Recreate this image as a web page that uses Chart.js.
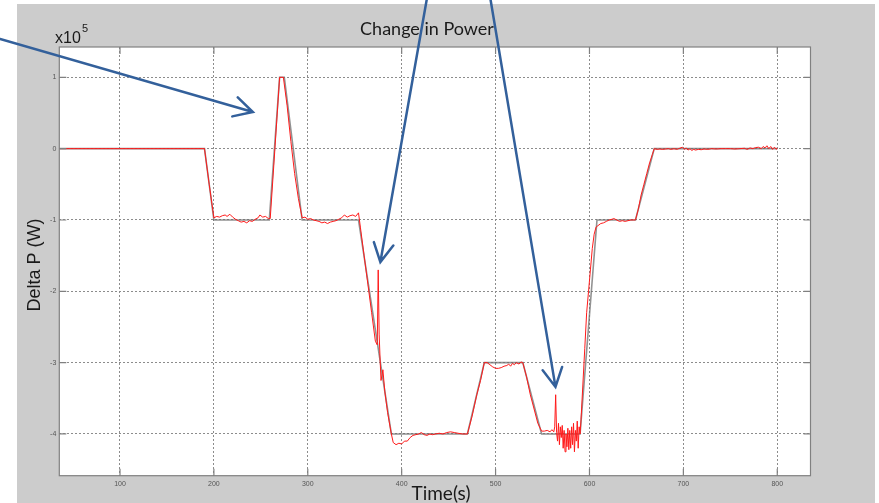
<!DOCTYPE html>
<html>
<head>
<meta charset="utf-8">
<script src="https://cdn.jsdelivr.net/npm/chart.js@4"></script>
<style>
  html, body { margin: 0; padding: 0; background: #fff; }
  #wrap { width: 879px; height: 503px; }
</style>
</head>
<body>
<div id="wrap"><canvas id="powerChart" width="879" height="503"></canvas></div>
<script>
// values in units of 1e5 W
const refTime  = [35, 190, 200, 259, 270, 275, 294, 354, 389, 470, 488, 529, 549, 590, 608, 649, 669, 800];
const refPower = [0, 0, -1, -1, 1, 1, -1, -1, -4, -4, -3, -3, -4, -4, -1, -1, 0, 0];

const measTime = [
  35, 190, 195, 200, 203, 206, 209, 212, 214, 217, 220, 223, 226, 229, 232, 235, 238, 241, 244, 247, 249, 252, 255, 258, 260,
  265, 270, 274, 278, 282, 286, 290, 294,
  297, 300, 303, 306, 309, 312, 315, 318, 321, 324, 327, 330, 333, 336, 339, 342, 345, 348, 351, 354,
  356, 360, 364, 368, 372, 374, 375, 376, 377, 378, 380, 382, 385, 389,
  391, 394, 397, 400, 403, 406, 409, 412, 415, 418, 421, 424, 427, 430, 433, 436, 440, 444, 448, 452, 456, 460, 465, 470,
  475, 480, 484, 488,
  491, 494, 497, 500, 503, 506, 509, 512, 514, 516, 518, 520, 522, 525, 527, 529,
  533, 537, 541, 545, 549,
  552, 555, 558, 560, 562, 563, 564, 565, 566, 567, 568, 569, 570, 571, 572, 573, 574, 575, 576, 577, 578, 579, 580,
  581, 582, 583, 584, 585, 586, 587, 588, 589, 590,
  591, 593, 595, 597, 599, 601, 603, 605, 607,
  609, 612, 615, 618, 621, 624, 626, 629, 632, 635, 638, 641, 644, 647, 649,
  652, 655, 658, 661, 664, 667, 669,
  672, 675, 678, 681, 684, 687, 690, 693, 696, 699, 701, 703, 705, 707, 709, 711, 713, 716, 719, 722, 726, 730,
  735, 740, 745, 750, 755, 760, 765, 768, 771, 774, 777, 780, 783, 785, 787, 789, 791, 793, 795, 797, 799, 800
];
const measPower = [
  0, 0, -0.5, -0.97, -0.95, -0.96, -0.94, -0.93, -0.95, -0.92, -0.96, -0.99, -1.01, -1.03, -1.02, -1.04, -1.01, -1.02, -0.99, -0.97, -0.93, -0.96, -0.95, -0.98, -0.98,
  0.0, 1.0, 1.0, 0.6, 0.1, -0.35, -0.7, -0.97,
  -0.96, -0.99, -0.98, -1.0, -1.01, -1.02, -1.04, -1.03, -1.05, -1.03, -1.02, -1.01, -0.99, -0.97, -0.93, -0.96, -0.94, -0.93, -0.95, -0.9,
  -1.1, -1.5, -1.9, -2.3, -2.7, -2.75, -1.7, -2.6, -2.95, -3.25, -3.1, -3.4, -3.7, -4.0,
  -4.12, -4.15, -4.13, -4.14, -4.1, -4.1, -4.05, -4.02, -4.01, -4.0, -3.98, -4.01, -4.02, -4.0, -4.01, -4.0, -3.99, -4.0, -3.98, -3.97, -3.98, -3.99, -4.0, -4.0,
  -3.75, -3.45, -3.25, -3.0,
  -3.0, -3.03, -3.06, -3.08, -3.08, -3.07, -3.05, -3.04, -3.02, -3.05, -3.01, -3.03, -3.0, -3.02, -2.99, -3.0,
  -3.2, -3.45, -3.65, -3.85, -3.96,
  -3.96, -3.95, -3.97, -3.94, -3.97, -3.9, -3.45, -3.98, -4.1, -3.85, -4.15, -3.9, -4.05, -3.88, -4.2, -3.95, -4.25, -4.0, -4.18, -3.92, -4.22, -3.95, -4.2,
  -3.9, -4.15, -3.85, -4.25, -3.95, -4.1, -3.82, -4.2, -3.9, -4.0,
  -3.8, -3.3, -2.8, -2.3, -2.0, -1.7, -1.4, -1.2, -1.1,
  -1.08, -1.05, -1.04, -1.02, -1.0, -0.99, -0.98, -1.0, -1.02, -1.01, -1.02, -1.01, -1.0, -1.0, -1.0,
  -0.85, -0.65, -0.5, -0.35, -0.2, -0.08, 0.0,
  -0.01, -0.005, -0.01, -0.005, 0.0, -0.01, 0.0, -0.01, 0.005, 0.02, -0.01, 0.01, -0.02, 0.0, -0.025, -0.01, -0.02, -0.01, -0.015, -0.005, -0.01, 0.0,
  -0.005, 0.0, 0.0, 0.0, -0.005, 0.0, 0.005, -0.01, 0.01, 0.0, 0.015, 0.02, 0.0, 0.03, 0.01, 0.04, 0.0, 0.03, -0.01, 0.02, -0.01, 0.01
];

const xTicks = [100, 200, 300, 400, 500, 600, 700, 800];
const yTicks = [-4, -3, -2, -1, 0, 1];

// callout arrows: tail and tip in data units
const arrowTails = [[-27.7, 1.537], [426.6, 2.084], [494.7, 2.084]];
const arrowTips  = [[241.5, 0.513], [377.3, -1.59], [563.8, -3.34]];

const toPoints = (xs, ys) => xs.map((x, i) => ({ x: x, y: ys[i] }));

const paperPlugin = {
  id: 'paper',
  beforeDraw(chart) {
    const { ctx, chartArea: a } = chart;
    ctx.save();
    ctx.fillStyle = '#ffffff';
    ctx.fillRect(0, 0, chart.width, chart.height);
    ctx.fillStyle = '#cccccc';
    ctx.fillRect(17, 4, 858, 499);
    ctx.fillStyle = '#ffffff';
    ctx.fillRect(a.left, a.top, a.right - a.left, a.bottom - a.top);
    ctx.restore();
  },
  afterDraw(chart) {
    const { ctx, chartArea: a } = chart;
    const xs = chart.scales.x, ys = chart.scales.y;
    ctx.save();

    // axes box with inward ticks
    ctx.strokeStyle = '#808080';
    ctx.lineWidth = 1.2;
    ctx.strokeRect(a.left, a.top, a.right - a.left, a.bottom - a.top);
    ctx.beginPath();
    xTicks.forEach(v => {
      const px = xs.getPixelForValue(v);
      ctx.moveTo(px, a.bottom); ctx.lineTo(px, a.bottom - 7);
      ctx.moveTo(px, a.top); ctx.lineTo(px, a.top + 7);
    });
    yTicks.forEach(v => {
      const py = ys.getPixelForValue(v);
      ctx.moveTo(a.left, py); ctx.lineTo(a.left + 7, py);
      ctx.moveTo(a.right, py); ctx.lineTo(a.right - 7, py);
    });
    ctx.stroke();

    // texts
    ctx.fillStyle = '#1a1a1a';
    ctx.textAlign = 'center';
    ctx.textBaseline = 'middle';
    ctx.font = '18px Lato';
    ctx.fillText('Change in Power', 427, 29);
    ctx.font = '19px Lato';
    ctx.fillText('Time(s)', 441, 494);
    ctx.save();
    ctx.translate(35, 265);
    ctx.rotate(-Math.PI / 2);
    ctx.font = '18px "Liberation Sans"';
    ctx.fillText('Delta P (W)', 0, 0);
    ctx.restore();
    ctx.textAlign = 'left';
    ctx.textBaseline = 'alphabetic';
    ctx.font = '16px "Liberation Sans"';
    ctx.fillText('x10', 55, 43);
    ctx.font = '11px "Liberation Sans"';
    ctx.fillText('5', 82, 32);

    // callout arrows
    ctx.strokeStyle = '#33609b';
    ctx.lineWidth = 2.5;
    ctx.lineCap = 'round';
    arrowTips.forEach((tip, i) => {
      const x0 = xs.getPixelForValue(arrowTails[i][0]), y0 = ys.getPixelForValue(arrowTails[i][1]);
      const x1 = xs.getPixelForValue(tip[0]), y1 = ys.getPixelForValue(tip[1]);
      const ang = Math.atan2(y1 - y0, x1 - x0);
      const len = 21, spread = 28 * Math.PI / 180;
      ctx.beginPath();
      ctx.moveTo(x0, y0); ctx.lineTo(x1, y1);
      ctx.moveTo(x1 - len * Math.cos(ang - spread), y1 - len * Math.sin(ang - spread));
      ctx.lineTo(x1, y1);
      ctx.lineTo(x1 - len * Math.cos(ang + spread), y1 - len * Math.sin(ang + spread));
      ctx.stroke();
    });
    ctx.restore();
  }
};

const ctx = document.getElementById('powerChart').getContext('2d');
const powerChart = new Chart(ctx, {
  type: 'line',
  data: {
    datasets: [{
      label: 'Measured',
      data: toPoints(measTime, measPower),
      borderColor: '#ff1a1a',
      borderWidth: 1,
      pointRadius: 0,
      tension: 0
    }, {
      label: 'Reference',
      data: toPoints(refTime, refPower),
      borderColor: 'rgba(110,110,110,0.75)',
      borderWidth: 1.6,
      pointRadius: 0,
      tension: 0
    }]
  },
  options: {
    responsive: false,
    animation: false,
    layout: { padding: { left: 17, top: 47, right: 68.5, bottom: 0 } },
    plugins: { legend: { display: false }, tooltip: { enabled: false }, title: { display: false } },
    scales: {
      x: {
        type: 'linear',
        min: 35.36,
        max: 835.4,
        afterBuildTicks: s => { s.ticks = xTicks.map(v => ({ value: v })); },
        afterFit: s => { s.height = 27.3; },
        grid: { color: '#8c8c8c', drawTicks: false, lineWidth: 1 },
        border: { display: false, dash: [2, 2] },
        ticks: { padding: 4, color: '#555', font: { size: 7, family: 'Liberation Sans' }, maxRotation: 0 }
      },
      y: {
        type: 'linear',
        min: -4.585,
        max: 1.425,
        afterBuildTicks: s => { s.ticks = yTicks.map(v => ({ value: v })); },
        afterFit: s => { s.width = 42.3; },
        grid: { color: '#8c8c8c', drawTicks: false, lineWidth: 1 },
        border: { display: false, dash: [2, 2] },
        ticks: { padding: 3, color: '#555', font: { size: 7, family: 'Liberation Sans' } }
      }
    }
  },
  plugins: [paperPlugin]
});
</script>
</body>
</html>
